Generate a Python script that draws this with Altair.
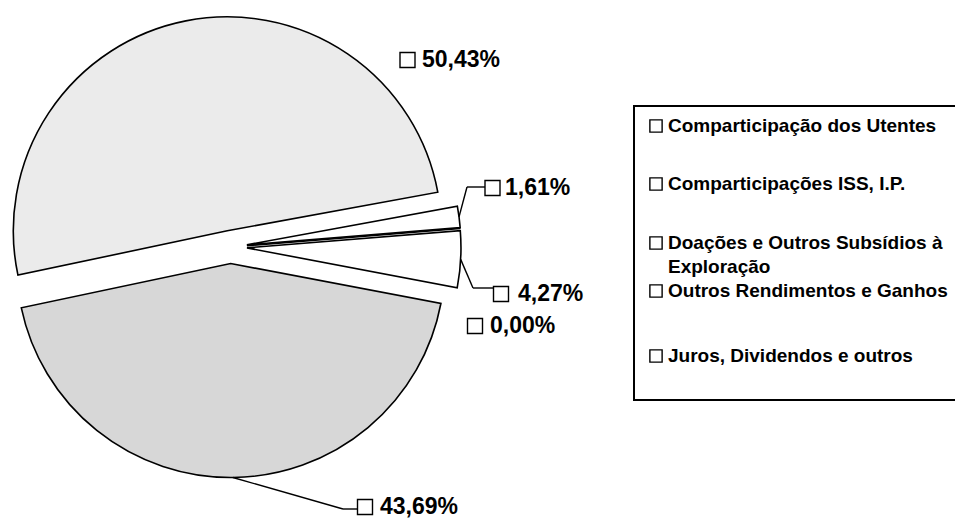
import altair as alt
import pandas as pd

# ---- data ----
categories = [
    "Comparticipação dos Utentes",
    "Comparticipações ISS, I.P.",
    "Doações e Outros Subsídios à Exploração",
    "Outros Rendimentos e Ganhos",
    "Juros, Dividendos e outros",
]
values = [50.43, 43.69, 4.27, 0.00, 1.61]
legend_texts = [
    "Comparticipação dos Utentes",
    "Comparticipações ISS, I.P.",
    "Doações e Outros Subsídios à\nExploração",
    "Outros Rendimentos e Ganhos",
    "Juros, Dividendos e outros",
]

# ---- styles / layout (chart pixel coordinates) ----
fills = ["#ebebeb", "#d7d7d7", "#ffffff", "#ffffff", "#ffffff"]
CX, CY, R, EXPLODE = 222.5, 239.0, 214, 16.5
START = 79.6 * 3.141592653589793 / 180  # first slice's clockwise edge; slices run anticlockwise
FONT = "Liberation Sans"

label_sq_x = [399.5, 357, 493, 467, 484.5]
label_text_x = [414, 372, 510, 482, 497]
label_y = [52, 499, 286, 318, 180]
elbow_x = [None, 335, 465, None, 459]
elbow_y = [None, 501, 280, None, 179]
end_x = [None, 349, 485, None, 477]

legend_y = [118, 176, 235, 283, 348]
LEG_SQ_X, LEG_TX_X = 648, 660

df = pd.DataFrame({
    "category": categories,
    "value": values,
    "order": list(range(len(categories))),
    "sqx": label_sq_x, "tx": label_text_x, "ly": label_y,
    "elx": elbow_x, "ely": elbow_y, "endx": end_x,
})
leg = pd.DataFrame({"category": categories, "text": legend_texts, "y": legend_y})

base = (
    alt.Chart(df)
    .transform_joinaggregate(total="sum(value)")
    .transform_window(cum="sum(value)", sort=[alt.SortField("order")], frame=[None, 0])
    .transform_calculate(
        a_hi=f"{START} - (datum.cum - datum.value) / datum.total * 2 * PI",
        a_lo=f"{START} - datum.cum / datum.total * 2 * PI",
    )
    .transform_calculate(mid="(datum.a_hi + datum.a_lo) / 2")
    .transform_calculate(
        cx=f"{CX} + {EXPLODE} * sin(datum.mid)",
        cy=f"{CY} - {EXPLODE} * cos(datum.mid)",
    )
    .transform_calculate(
        ex=f"datum.cx + {R} * sin(datum.mid)",
        ey=f"datum.cy - {R} * cos(datum.mid)",
        label="replace(format(datum.value, '.2f'), '.', ',') + '%'",
    )
)

color = alt.Color("category:N", scale=alt.Scale(domain=categories, range=fills), legend=None)

slices = base.mark_arc(radius=R, stroke="black", strokeWidth=1.6, strokeJoin="miter").encode(
    theta=alt.Theta("a_lo:Q", scale=None, stack=None),
    theta2="a_hi:Q",
    x=alt.X("cx:Q", scale=None),
    y=alt.Y("cy:Q", scale=None),
    fill=color,
    order=alt.Order("order:Q"),
)

lead1 = base.transform_filter("isValid(datum.elx)").mark_rule(color="black", strokeWidth=1.4).encode(
    x=alt.X("ex:Q", scale=None), y=alt.Y("ey:Q", scale=None),
    x2="elx:Q", y2="ely:Q",
)
lead2 = base.transform_filter("isValid(datum.elx)").mark_rule(color="black", strokeWidth=1.4).encode(
    x=alt.X("elx:Q", scale=None), y=alt.Y("ely:Q", scale=None),
    x2="endx:Q",
)

lab_sq = base.mark_point(shape="square", size=225, filled=True, fill="white",
                         stroke="black", strokeWidth=1.4, opacity=1).encode(
    x=alt.X("sqx:Q", scale=None), y=alt.Y("ly:Q", scale=None),
)
lab_tx = base.mark_text(align="left", baseline="middle", font=FONT, fontSize=23,
                        fontWeight="bold", color="black").encode(
    x=alt.X("tx:Q", scale=None), y=alt.Y("ly:Q", scale=None), text="label:N",
)

box = alt.Chart(pd.DataFrame({"a": [0]})).mark_rect(fill="white", stroke="black", strokeWidth=2).encode(
    x=alt.value(626), x2=alt.value(975), y=alt.value(98), y2=alt.value(392),
)
leg_sq = alt.Chart(leg).mark_point(shape="square", size=150, filled=True, fill="white",
                                   stroke="black", strokeWidth=1.4, opacity=1).encode(
    x=alt.value(LEG_SQ_X), y=alt.Y("y:Q", scale=None),
)
leg_tx = alt.Chart(leg).mark_text(align="left", baseline="middle", font=FONT, fontSize=19,
                                  fontWeight="bold", color="black", lineBreak="\n",
                                  lineHeight=24).encode(
    x=alt.value(LEG_TX_X), y=alt.Y("y:Q", scale=None), text="text:N",
)

chart = (
    alt.layer(slices, lead1, lead2, lab_sq, lab_tx, box, leg_sq, leg_tx)
    .properties(width=947, height=510, padding=0, autosize="none", background="white")
    .configure_view(stroke=None)
)

chart.save("out.html", embed_options={"renderer": "svg", "actions": False})
